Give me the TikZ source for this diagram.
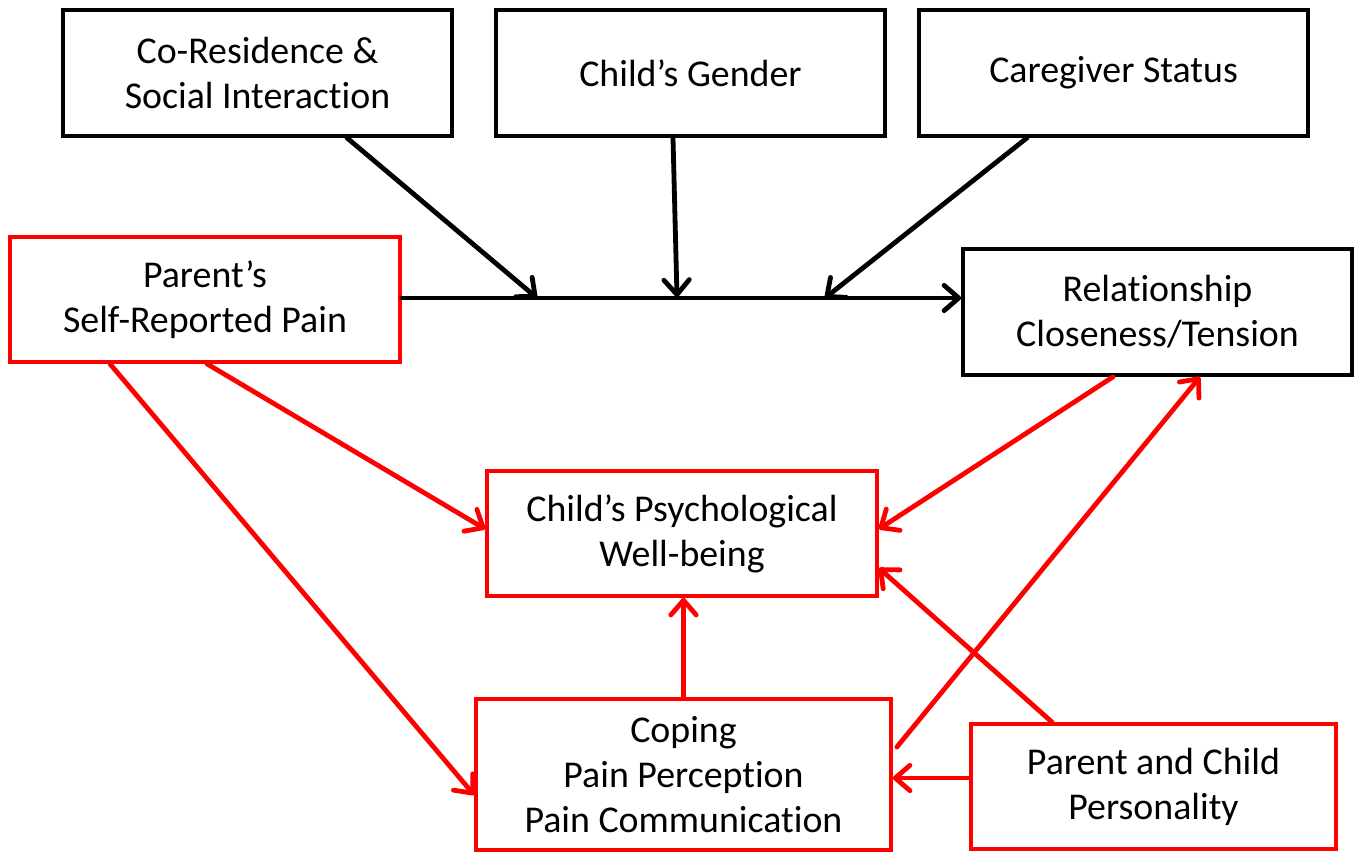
\documentclass[tikz,border=0pt]{standalone}
\usepackage{fontspec}
\setmainfont{Carlito}[Ligatures={NoCommon}]
\usetikzlibrary{arrows.meta,calc}
\begin{document}
\begin{tikzpicture}[x=0.75pt,y=-0.75pt,
  box/.style={draw=black,line width=2.8pt,fill=white,align=center,inner sep=0pt,
    font=\fontsize{28.4}{33.75}\selectfont},
  rbox/.style={box,draw=red},
  arr/.style={line width=3.6pt,-{Straight Barb[length=11pt,width=19pt,line cap=round,line join=round]},line cap=round},
  rarr/.style={arr,draw=red}]
\useasboundingbox (0,0) rectangle (1360,856);
\node[box,minimum width=291.75pt,minimum height=94.5pt] (cores) at (257.5,73) {Co-Residence \&\\Social Interaction};
\node[box,minimum width=291.75pt,minimum height=94.5pt] (gender) at (690.5,73) {Child’s Gender};
\node[box,minimum width=291.75pt,minimum height=94.5pt] (care) at (1113.5,73) {Caregiver Status};
\node[rbox,minimum width=292.5pt,minimum height=93.75pt] (parent) at (205,299.5) {Parent’s\\Self-Reported Pain};
\node[box,minimum width=291.75pt,minimum height=94.5pt] (rel) at (1157.5,312) {Relationship\\Closeness/Tension};
\node[rbox,minimum width=292.5pt,minimum height=93.75pt] (child) at (682,533.5) {Child’s Psychological\\Well-being};
\node[rbox,minimum width=311.25pt,minimum height=113.25pt] (coping) at (683.5,774.5) {Coping\\Pain Perception\\Pain Communication};
\node[rbox,minimum width=273.75pt,minimum height=93.75pt] (pers) at (1153.5,786.5) {Parent and Child\\Personality};
\coordinate (m1) at (537,298);
\coordinate (m2) at (677,297);
\coordinate (m3) at (825,298);
% black
\draw[arr] ($(parent.east)+(0,-1.5)$) -- ($(parent.east -| rel.west)+(0,-1.5)$);
\draw[arr] ($(cores.south)+(89.5,0)$) -- (m1);
\draw[arr] ($(gender.south)+(-17.5,0)$) -- (m2);
\draw[arr] ($(care.south)+(-86.5,0)$) -- (m3);
% red
\draw[rarr] ($(parent.south)+(2,0)$) -- ($(child.west)+(0,-4.5)$);
\draw[rarr] ($(parent.south)+(-95,0)$) -- ($(coping.west)+(0,20.5)$);
\draw[rarr] ($(rel.south)+(-44.5,0)$) -- ($(child.east)+(0,-4.5)$);
\draw[rarr] (coping.north) -- (coping.north |- child.south);
\draw[rarr] ($(coping.east)+(4,-27.5)$) -- ($(rel.south)+(42.5,0)$);
\draw[rarr] ($(pers.north)+(-101.5,0)$) -- ($(child.east)+(0,34.5)$);
\draw[rarr] ($(pers.west)+(0,-8.5)$) -- ($(coping.east)+(0,3.5)$);
\end{tikzpicture}
\end{document}
